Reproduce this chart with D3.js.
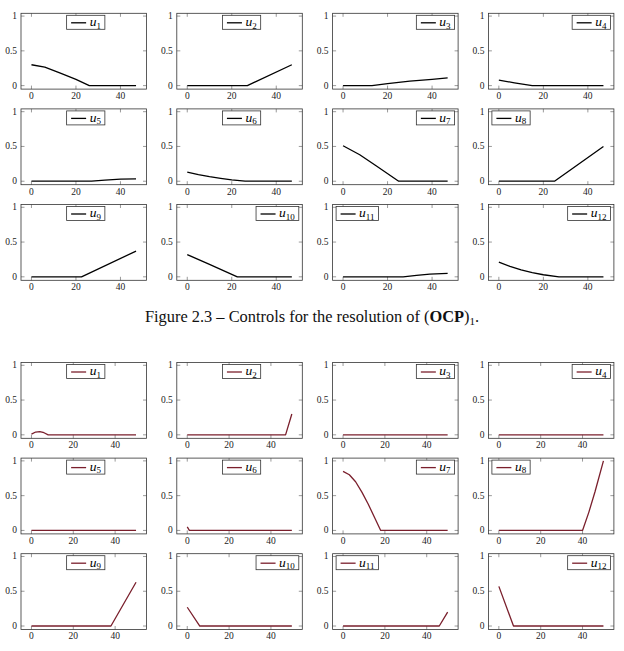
<!DOCTYPE html>
<html>
<head>
<meta charset="utf-8">
<script src="https://cdn.jsdelivr.net/npm/d3@7"></script>
<style>
  body { margin: 0; background: #fff; }
  svg text { font-family: "Liberation Serif", "DejaVu Serif", serif; }
</style>
</head>
<body>
<svg id="fig" width="624" height="651"></svg>
<script>
// tick labels
const xTicks = [0, 20, 40]
const yTicks = [0, 0.5, 1]
const yTickLabels = ["0", "0.5", "1"]

// legend position for each panel (c = top centre, ne = top right, nw = top left)
const legendPos = ["c", "c", "ne", "ne", "c", "c", "ne", "nw", "c", "ne", "nw", "ne"]

// figure 2.3, controls u1..u12 (x from 0 to 47)
const t1 = [[0, 0.30], [6, 0.265], [13, 0.18], [20, 0.09], [26, 0], [47, 0]]
const t2 = [[0, 0], [27, 0], [47, 0.30]]
const t3 = [[0, 0], [13, 0], [20, 0.03], [30, 0.065], [40, 0.09], [47, 0.11]]
const t4 = [[0, 0.08], [7, 0.04], [15, 0], [47, 0]]
const t5 = [[0, 0], [27, 0], [33, 0.015], [40, 0.03], [47, 0.033]]
const t6 = [[0, 0.13], [5, 0.095], [10, 0.065], [15, 0.04], [20, 0.018], [26, 0], [47, 0]]
const t7 = [[0, 0.51], [7.5, 0.38], [15, 0.22], [25, 0], [47, 0]]
const t8 = [[0, 0], [25, 0], [47, 0.50]]
const t9 = [[0, 0], [22.5, 0], [47, 0.37]]
const t10 = [[0, 0.32], [10, 0.18], [22.5, 0], [47, 0]]
const t11 = [[0, 0], [27, 0], [33, 0.02], [39, 0.04], [47, 0.05]]
const t12 = [[0, 0.21], [5, 0.15], [10, 0.10], [15, 0.06], [20, 0.03], [27, 0], [47, 0]]

// second figure, controls u1..u12 (x from 0 to 50)
const b1 = [[0, 0.01], [2, 0.04], [4, 0.045], [6, 0.03], [8, 0], [50, 0]]
const b2 = [[0, 0], [47, 0], [50, 0.30]]
const b3 = [[0, 0], [50, 0]]
const b4 = [[0, 0], [50, 0]]
const b5 = [[0, 0], [50, 0]]
const b6 = [[0, 0.05], [1, 0], [50, 0]]
const b7 = [[0, 0.85], [3, 0.80], [6, 0.70], [9, 0.55], [12, 0.38], [15, 0.19], [18, 0], [50, 0]]
const b8 = [[0, 0], [40, 0], [43, 0.26], [46, 0.56], [50, 1.0]]
const b9 = [[0, 0], [38, 0], [50, 0.63]]
const b10 = [[0, 0.27], [6, 0], [50, 0]]
const b11 = [[0, 0], [46, 0], [50, 0.20]]
const b12 = [[0, 0.57], [7, 0], [50, 0]]

const topSeries = [t1, t2, t3, t4, t5, t6, t7, t8, t9, t10, t11, t12]
const bottomSeries = [b1, b2, b3, b4, b5, b6, b7, b8, b9, b10, b11, b12]

const svg = d3.select("#fig")

const PW = 125.5
const PH = 75.8
const colX = [21, 176.8, 332.6, 488.4]

function panel(parent, px, py, data, xmax, color, idx){
    const g = parent.append("g").attr("transform", `translate(${px},${py})`)
    const pad = xmax * 0.1
    const x = d3.scaleLinear().domain([-pad, xmax + pad]).range([0, PW])
    const y = d3.scaleLinear().domain([-0.05, 1.04]).range([PH, 0])

    // ticks on all four sides, pointing inward
    const tl = 3.5
    xTicks.forEach(t => {
        g.append("line").attr("x1", x(t)).attr("x2", x(t)).attr("y1", PH).attr("y2", PH - tl)
        .attr("stroke", "#555").attr("stroke-width", 0.6)
        g.append("line").attr("x1", x(t)).attr("x2", x(t)).attr("y1", 0).attr("y2", tl)
        .attr("stroke", "#555").attr("stroke-width", 0.6)
        g.append("text").attr("x", x(t)).attr("y", PH + 10)
        .attr("text-anchor", "middle").attr("font-size", 9.5).attr("fill", "#222")
        .text(t)
    })
    yTicks.forEach((t, i) => {
        g.append("line").attr("x1", 0).attr("x2", tl).attr("y1", y(t)).attr("y2", y(t))
        .attr("stroke", "#555").attr("stroke-width", 0.6)
        g.append("line").attr("x1", PW).attr("x2", PW - tl).attr("y1", y(t)).attr("y2", y(t))
        .attr("stroke", "#555").attr("stroke-width", 0.6)
        g.append("text").attr("x", -4).attr("y", y(t) + 3)
        .attr("text-anchor", "end").attr("font-size", 9.5).attr("fill", "#222")
        .text(yTickLabels[i])
    })

    // the curve
    const line = d3.line().x(d => x(d[0])).y(d => y(d[1]))
    g.append("path").datum(data).attr("d", line)
    .attr("fill", "none").attr("stroke", color).attr("stroke-width", 1.3)
    .attr("stroke-linejoin", "round")

    // frame
    g.append("rect").attr("x", 0).attr("y", 0).attr("width", PW).attr("height", PH)
    .attr("fill", "none").attr("stroke", "#333").attr("stroke-width", 0.8)

    // legend
    const lg = g.append("g")
    const txt = lg.append("text").attr("x", 23).attr("y", 10.8).attr("font-size", 13.5)
    txt.append("tspan").attr("font-style", "italic").text("u")
    txt.append("tspan").attr("font-size", 9).attr("dy", 2.5).text(idx + 1)
    const bw = txt.node().getComputedTextLength() + 27
    const bh = 14
    lg.insert("rect", "text").attr("x", 0).attr("y", 0).attr("width", bw).attr("height", bh)
    .attr("fill", "#fff").attr("stroke", "#333").attr("stroke-width", 0.8)
    lg.append("line").attr("x1", 4.5).attr("x2", 19.5).attr("y1", 7.5).attr("y2", 7.5)
    .attr("stroke", color).attr("stroke-width", 1.3)
    let lx
    const pos = legendPos[idx]
    if(pos === "c") lx = PW / 2 - bw / 2 + 2
    else if(pos === "ne") lx = PW - bw - 3.5
    else lx = 3.5
    lg.attr("transform", `translate(${lx},2)`)
}

function figure(top, series, xmax, color){
    for(let i = 0; i < series.length; i++){
        const r = Math.floor(i / 4)
        const c = i % 4
        panel(svg, colX[c], top + r * 95.6, series[i], xmax, color, i)
    }
}

figure(13.3, topSeries, 47, "#000")
figure(362.5, bottomSeries, 50, "#7a1f2c")

// caption
const cap = svg.append("text").attr("x", 312).attr("y", 322)
.attr("text-anchor", "middle").attr("font-size", 16.4).attr("fill", "#111")
cap.append("tspan").text("Figure 2.3 \u2013 Controls for the resolution of (")
cap.append("tspan").attr("font-weight", "bold").text("OCP")
cap.append("tspan").text(")")
cap.append("tspan").attr("font-size", 11).attr("dy", 3).text("1")
cap.append("tspan").attr("dy", -3).text(".")
</script>
</body>
</html>
